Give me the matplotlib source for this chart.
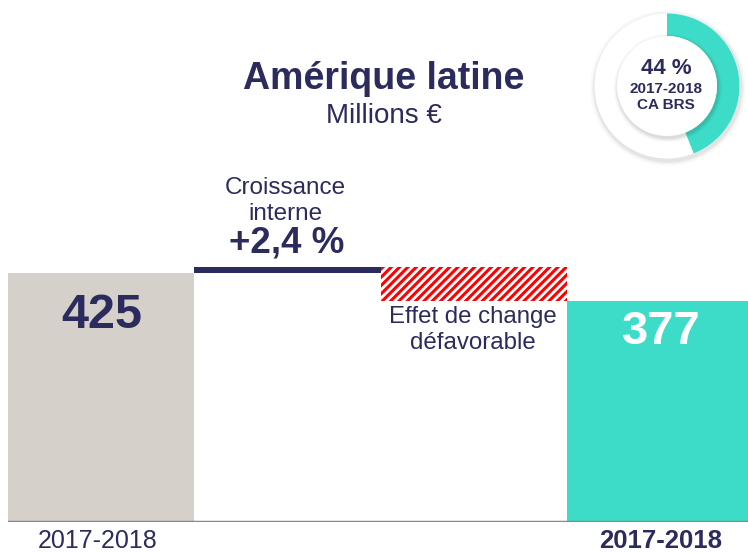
import matplotlib
matplotlib.use("Agg")
import matplotlib.pyplot as plt
from matplotlib.patches import Circle, Wedge

plt.rcParams['font.family'] = ['Liberation Sans', 'DejaVu Sans']
plt.rcParams['hatch.linewidth'] = 2.2

navy = '#2b2b5e'
teal = '#3ddcc8'
grey = '#d5d1ca'

# data
start_val = 425
growth_pct = 2.4
end_val = 377
growth = 10.2
share_pct = 44
period = '2017-2018'

W, H = 748, 553
fig = plt.figure(figsize=(W / 100, H / 100), dpi=100)

# waterfall axes
ax = fig.add_axes([8 / W, (H - 522) / H, (W - 8) / W, 522 / H])
ax.set_xlim(0, 740 / 186.5)
ax.set_ylim(0, 891)
ax.axis('off')

ax.bar(0, start_val, width=1, align='edge', color=grey)
ax.bar(1, growth, bottom=start_val, width=1, align='edge', color=navy)
top = start_val + growth
ax.bar(2, top - end_val, bottom=end_val, width=1, align='edge',
       facecolor='white', edgecolor='#ff0000', hatch='////', linewidth=0)
ax.bar(3, end_val, width=1.2, align='edge', color=teal)
ax.axhline(0, color='#888888', lw=2.5)

# labels (figure pixel coords)
def ftext(x, y, s, **kw):
    fig.text(x / W, 1 - y / H, s, ha='center', va='center', **kw)

ftext(102, 315, str(start_val), fontsize=35, fontweight='bold', color=navy)
ftext(661, 332, str(end_val), fontsize=34, fontweight='bold', color='white')

ftext(384, 79, 'Amérique latine', fontsize=27, fontweight='bold', color=navy)
ftext(384, 116, 'Millions €', fontsize=20, color=navy)
ftext(285, 201, 'Croissance\ninterne', fontsize=17.5, color=navy, linespacing=1.2)
ftext(287, 243, '+{:.1f} %'.format(growth_pct).replace('.', ','), fontsize=26.5,
      fontweight='bold', color=navy)
ftext(473, 330, 'Effet de change\ndéfavorable', fontsize=17.3, color=navy,
      linespacing=1.2)
ftext(98, 541, period, fontsize=18, color=navy)
ftext(661, 541, period, fontsize=18.5, fontweight='bold', color=navy)

# donut
cx, cy = 667, 86
dax = fig.add_axes([(cx - 84) / W, 1 - (cy + 84) / H, 168 / W, 168 / H])
dax.set_xlim(-84, 84)
dax.set_ylim(-84, 84)
dax.set_aspect('equal')
dax.axis('off')
for r, a in [(78, 0.02), (76, 0.035), (74.5, 0.05)]:
    dax.add_patch(Circle((1, -2), r, color='#000000', alpha=a, lw=0))
dax.add_patch(Circle((0, 0), 72.5, color='white', lw=0))
dax.add_patch(Wedge((0, 0), 72.5, 90 - 360 * share_pct / 100, 90, width=22.5,
                    color=teal, lw=0))
for r, a in [(54, 0.03), (52.5, 0.05), (51, 0.06)]:
    dax.add_patch(Circle((1, -2), r, color='#000000', alpha=a, lw=0))
dax.add_patch(Circle((0, 0), 50, color='white', lw=0))

ftext(666, 68, '{} %'.format(share_pct), fontsize=16, fontweight='bold', color=navy)
ftext(666, 89, period, fontsize=11, fontweight='bold', color=navy)
ftext(666, 105, 'CA BRS', fontsize=11, fontweight='bold', color=navy)

fig.savefig('out.png', dpi=100)
